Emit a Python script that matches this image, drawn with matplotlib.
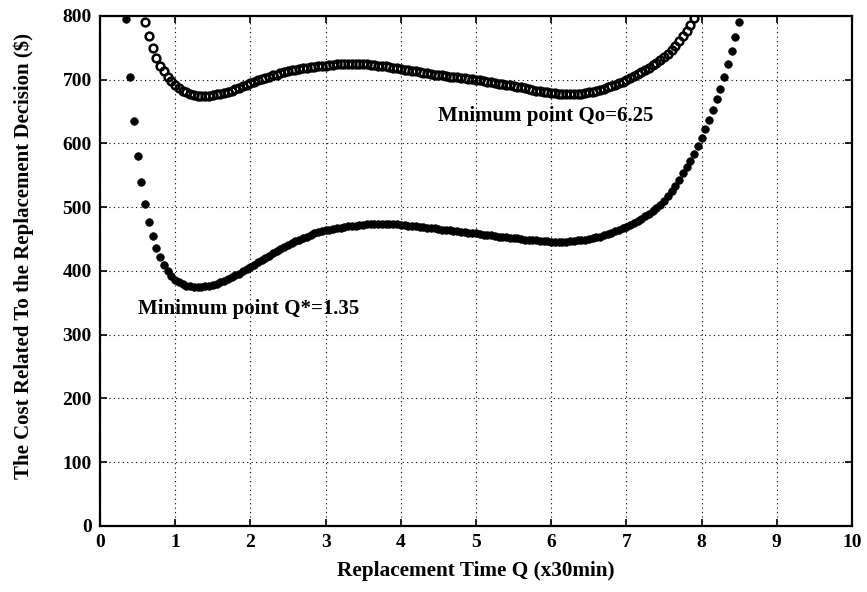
import numpy as np
import matplotlib
matplotlib.use("Agg")
import matplotlib.pyplot as plt

# ---------------- Cost curves (sampled every 0.05 on Q) ----------------
# Upper curve: Q from 0.60 to 7.90
upper_q0 = 0.60
upper_cost = [
    790, 768, 749, 734, 722, 713, 705, 698, 692, 687,   # 0.60 - 1.05
    683, 680, 678, 676, 675, 675, 675, 675, 676, 677,   # 1.10 - 1.55
    678, 679, 681, 683, 685, 687, 690, 692, 695, 697,   # 1.60 - 2.05
    699, 701, 703, 705, 707, 708, 710, 712, 713, 715,   # 2.10 - 2.55
    716, 717, 718, 719, 720, 720, 721, 722, 722, 723,   # 2.60 - 3.05
    723, 724, 724, 724, 725, 725, 725, 724, 724, 724,   # 3.10 - 3.55
    723, 723, 722, 721, 721, 720, 719, 718, 717, 716,   # 3.60 - 4.05
    715, 714, 713, 712, 711, 710, 709, 708, 708, 707,   # 4.10 - 4.55
    706, 705, 705, 704, 703, 702, 701, 701, 700, 699,   # 4.60 - 5.05
    698, 697, 696, 695, 694, 693, 692, 691, 690, 689,   # 5.10 - 5.55
    688, 687, 686, 684, 683, 682, 681, 680, 679, 679,   # 5.60 - 6.05
    678, 678, 677, 677, 677, 678, 678, 679, 680, 681,   # 6.10 - 6.55
    682, 684, 686, 688, 690, 692, 695, 697, 700, 703,   # 6.60 - 7.05
    706, 709, 712, 715, 719, 723, 727, 731, 736, 741,   # 7.10 - 7.55
    747, 753, 760, 768, 776, 786, 797,                  # 7.60 - 7.90
]

# Lower curve: Q from 0.35 to 8.50
lower_q0 = 0.35
lower_cost = [
    795, 705, 636, 581, 539, 505, 477, 455, 436, 422,   # 0.35 - 0.80
    410, 400, 392, 386, 382, 379, 377, 376, 375, 375,   # 0.85 - 1.30
    375, 376, 377, 378, 380, 382, 384, 387, 390, 393,   # 1.35 - 1.80
    396, 400, 403, 407, 410, 414, 417, 421, 424, 428,   # 1.85 - 2.30
    431, 435, 438, 441, 444, 447, 449, 452, 454, 457,   # 2.35 - 2.80
    459, 461, 462, 464, 465, 466, 467, 468, 469, 470,   # 2.85 - 3.30
    471, 471, 472, 472, 473, 473, 473, 473, 473, 473,   # 3.35 - 3.80
    473, 473, 473, 472, 472, 471, 471, 470, 469, 469,   # 3.85 - 4.30
    468, 467, 467, 466, 465, 464, 464, 463, 462, 461,   # 4.35 - 4.80
    461, 460, 459, 459, 458, 457, 456, 456, 455, 454,   # 4.85 - 5.30
    453, 453, 452, 451, 451, 450, 449, 449, 448, 448,   # 5.35 - 5.80
    447, 447, 447, 446, 446, 446, 446, 446, 447, 447,   # 5.85 - 6.30
    448, 448, 449, 450, 451, 453, 454, 456, 458, 460,   # 6.35 - 6.80
    462, 464, 467, 469, 472, 475, 478, 482, 486, 490,   # 6.85 - 7.30
    494, 499, 504, 510, 517, 525, 534, 543, 553, 563,   # 7.35 - 7.80
    573, 584, 596, 609, 623, 637, 652, 669, 686, 705,   # 7.85 - 8.30
    725, 745, 767, 790,                                 # 8.35 - 8.50
]
q_step = 0.05

x_ticks = [0, 1, 2, 3, 4, 5, 6, 7, 8, 9, 10]
y_ticks = [0, 100, 200, 300, 400, 500, 600, 700, 800]

upper_note = "Mnimum point Qo=6.25"
lower_note = "Minimum point Q*=1.35"

q_upper = upper_q0 + q_step * np.arange(len(upper_cost))
q_lower = lower_q0 + q_step * np.arange(len(lower_cost))

# ---------------- Plot ----------------
plt.rcParams["font.family"] = ["Liberation Serif", "DejaVu Serif"]
plt.rcParams["font.weight"] = "bold"

fig = plt.figure(figsize=(8.67, 5.92), dpi=100)
ax = fig.add_axes([0.1153, 0.1115, 0.8674, 0.8615])

ax.plot(q_upper, upper_cost, "o", ms=5.6, mfc="none", mec="black", mew=1.8)
ax.plot(q_lower, lower_cost, "o", ms=5.4, mfc="black", mec="black", mew=0.6)

ax.set_xlim(0, 10)
ax.set_ylim(0, 800)
ax.set_xticks(x_ticks)
ax.set_yticks(y_ticks)
ax.tick_params(direction="in", top=True, right=True, length=5, width=1.2,
               labelsize=14, pad=6)
for lab in ax.get_xticklabels() + ax.get_yticklabels():
    lab.set_fontweight("bold")

ax.grid(True, linestyle=(0, (1, 3)), linewidth=0.8, color="black")
for s in ax.spines.values():
    s.set_linewidth(1.6)

ax.set_xlabel("Replacement Time Q (x30min)", fontsize=15.3,
              fontweight="bold", labelpad=7)
ax.set_ylabel("The Cost Related To the Replacement Decision ($)",
              fontsize=15, fontweight="bold")
ax.yaxis.set_label_coords(-0.088, 0.53)

ax.text(4.49, 643, upper_note, fontsize=15, fontweight="bold",
        va="center", ha="left")
ax.text(0.51, 340, lower_note, fontsize=15, fontweight="bold",
        va="center", ha="left")

fig.savefig("out.png", dpi=100)
